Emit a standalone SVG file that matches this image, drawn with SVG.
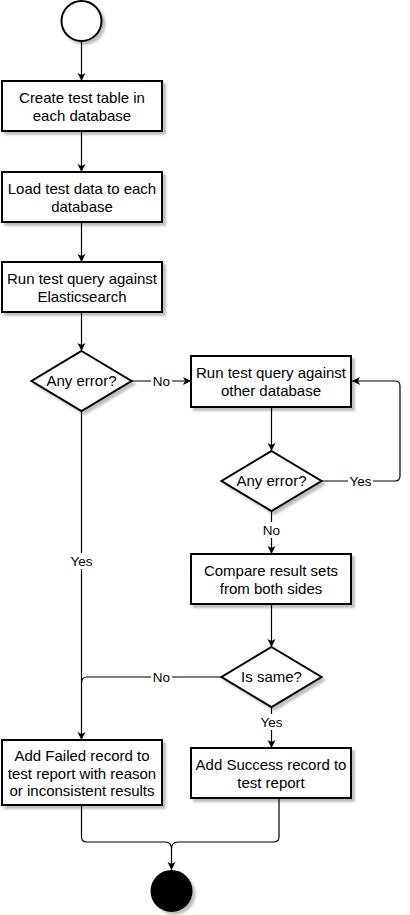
<svg xmlns="http://www.w3.org/2000/svg" width="410" height="915" viewBox="0 0 410 915">
<defs>
<filter id="sh" x="-20%" y="-20%" width="140%" height="150%">
<feDropShadow dx="3" dy="3" stdDeviation="0.8" flood-color="#000" flood-opacity="0.25"/>
</filter>
<marker id="arr" markerUnits="userSpaceOnUse" markerWidth="10" markerHeight="10" refX="8" refY="4" orient="auto">
<path d="M0,0 L8,4 L0,8 L2,4 Z" fill="#000"/>
</marker>
</defs>
<style>
.box{fill:#fff;stroke:#000;stroke-width:2;filter:url(#sh)}
.t{font-family:"Liberation Sans",Arial,sans-serif;font-size:15px;fill:#000;text-anchor:middle}
.lbl{font-family:"Liberation Sans",Arial,sans-serif;font-size:13.5px;fill:#000;text-anchor:middle}
.lbg{fill:#fff}
.e{fill:none;stroke:#000;stroke-width:1.2}
.ea{fill:none;stroke:#000;stroke-width:1.2;marker-end:url(#arr)}
</style>
<rect width="410" height="915" fill="#fff"/>
<g id="connectors">
<path class="ea" d="M81.5,41 V81"/>
<path class="ea" d="M81.5,131 V172"/>
<path class="ea" d="M81.5,222 V262"/>
<path class="ea" d="M81.5,312 V351"/>
<path class="ea" d="M131.5,381 H191"/>
<path class="ea" d="M271.5,407 V451"/>
<path class="ea" d="M321.5,481 H395 Q400,481 400,476 V386 Q400,381 395,381 H352"/>
<path class="ea" d="M271.5,511 V554"/>
<path class="ea" d="M271.5,604 V647"/>
<path class="ea" d="M271.5,707 V748"/>
<path class="ea" d="M81.5,411 V740"/>
<path class="e" d="M221.5,677 H87 Q81.5,677 81.5,683"/>
<path class="ea" d="M81.5,806 V837 Q81.5,842 87,842 H165 Q171.5,842 171.5,849 V870"/>
<path class="e" d="M279,798 V837 Q279,842 273.5,842 H178 Q171.5,842 171.5,849"/>
<rect class="lbg" x="151" y="373" width="21" height="16"/>
<text class="lbl" x="161.5" y="386">No</text>
<rect class="lbg" x="348" y="473" width="25" height="16"/>
<text class="lbl" x="360.5" y="486">Yes</text>
<rect class="lbg" x="261" y="522" width="21" height="16"/>
<text class="lbl" x="271.5" y="535">No</text>
<rect class="lbg" x="69" y="553" width="25" height="16"/>
<text class="lbl" x="81.5" y="566">Yes</text>
<rect class="lbg" x="151" y="669" width="21" height="16"/>
<text class="lbl" x="161.5" y="682">No</text>
<rect class="lbg" x="259" y="714" width="25" height="16"/>
<text class="lbl" x="271.5" y="727">Yes</text>
</g>
<g id="start">
<circle class="box" cx="81.5" cy="21" r="20"/>
</g>
<g id="create">
<rect class="box" x="2" y="81" width="160" height="50"/>
<text class="t" x="82" y="103">Create test table in</text>
<text class="t" x="82" y="120.5">each database</text>
</g>
<g id="load">
<rect class="box" x="2" y="172" width="160" height="50"/>
<text class="t" x="82" y="194">Load test data to each</text>
<text class="t" x="82" y="211.5">database</text>
</g>
<g id="runes">
<rect class="box" x="2" y="262" width="160" height="50"/>
<text class="t" x="82" y="284">Run test query against</text>
<text class="t" x="82" y="301.5">Elasticsearch</text>
</g>
<g id="err1">
<polygon class="box" points="81.5,351 131.5,381 81.5,411 31.5,381"/>
<text class="t" x="81.5" y="386">Any error?</text>
</g>
<g id="runother">
<rect class="box" x="191" y="356" width="160" height="51"/>
<text class="t" x="271" y="378">Run test query against</text>
<text class="t" x="271" y="395.5">other database</text>
</g>
<g id="err2">
<polygon class="box" points="271.5,451 321.5,481 271.5,511 221.5,481"/>
<text class="t" x="271.5" y="486">Any error?</text>
</g>
<g id="compare">
<rect class="box" x="191" y="554" width="160" height="50"/>
<text class="t" x="271" y="576">Compare result sets</text>
<text class="t" x="271" y="593.5">from both sides</text>
</g>
<g id="same">
<polygon class="box" points="271.5,647 321.5,677 271.5,707 221.5,677"/>
<text class="t" x="271.5" y="682">Is same?</text>
</g>
<g id="failed">
<rect class="box" x="2" y="740" width="160" height="65"/>
<text class="t" x="82" y="761">Add Failed record to</text>
<text class="t" x="82" y="778.5">test report with reason</text>
<text class="t" x="82" y="796">or inconsistent results</text>
</g>
<g id="success">
<rect class="box" x="191" y="748" width="160" height="50"/>
<text class="t" x="271" y="770">Add Success record to</text>
<text class="t" x="271" y="787.5">test report</text>
</g>
<g id="end">
<circle class="box" cx="171.5" cy="891" r="20" fill="#000" style="fill:#000"/>
</g>
</svg>
